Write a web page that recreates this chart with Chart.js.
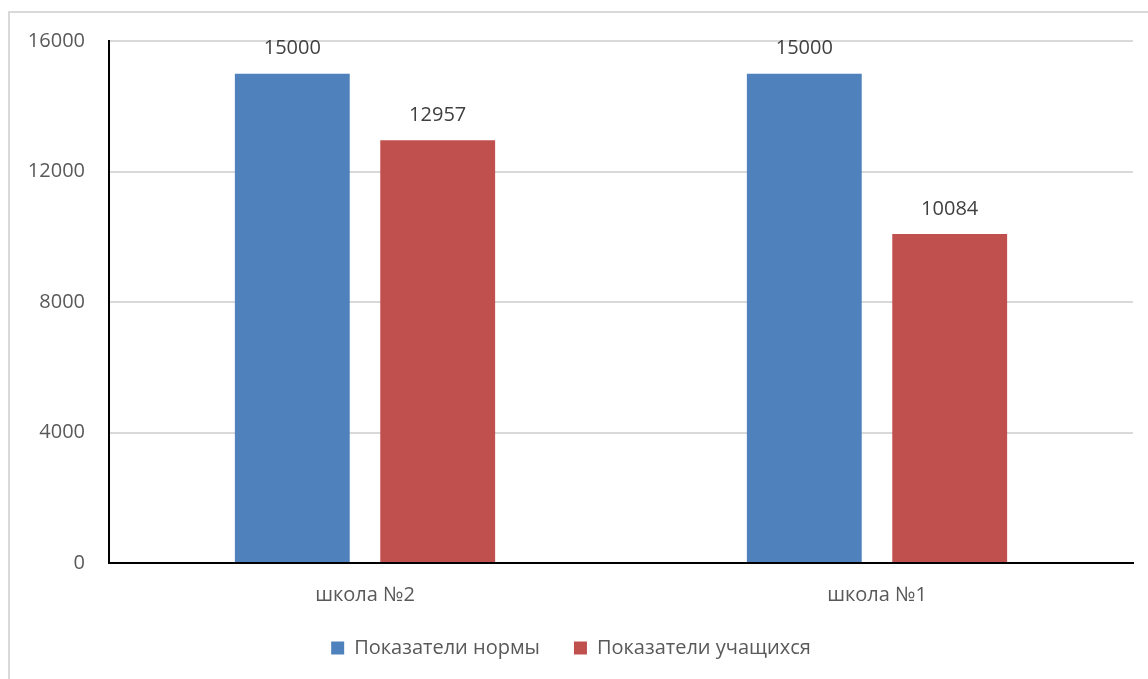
<!DOCTYPE html>
<html>
<head>
<meta charset="utf-8">
<script src="https://cdn.jsdelivr.net/npm/chart.js@4/dist/chart.umd.min.js"></script>
<style>
  html,body{margin:0;padding:0;background:#fff;overflow:hidden;}
  #frame{position:absolute;left:8px;top:11px;width:1200px;height:720px;border:2px solid #d9d9d9;box-sizing:border-box;}
  #wrap{position:absolute;left:0;top:0;width:1148px;height:679px;}
</style>
</head>
<body>
<div id="frame"></div>
<div id="wrap"><canvas id="myChart"></canvas></div>
<script>
// данные диаграммы
var schools = ['школа №2', 'школа №1'];
var normValues = [15000, 15000];
var studentValues = [12957, 10084];
var yTicks = [0, 4000, 8000, 12000, 16000];

var seriesNames = ['Показатели нормы', 'Показатели учащихся'];
var colors = ['#4F81BD', '#C0504D'];

var FONT = "'Open Sans', 'Noto Sans', sans-serif";

// подписи значений над столбиками
var valueLabels = {
  id: 'valueLabels',
  afterDatasetsDraw: function(chart){
    var ctx = chart.ctx;
    ctx.save();
    ctx.font = '20px ' + FONT;
    ctx.fillStyle = '#404040';
    ctx.textAlign = 'center';
    ctx.textBaseline = 'middle';
    chart.data.datasets.forEach(function(ds, i){
      chart.getDatasetMeta(i).data.forEach(function(bar, j){
        ctx.fillText(ds.data[j], bar.x, bar.y - 25);
      });
    });
    ctx.restore();
  }
};

var chardata = {
  labels: schools,
  datasets: [
    {
      label: seriesNames[0],
      data: normValues,
      backgroundColor: colors[0],
      borderWidth: 0,
      categoryPercentage: 0.568,
      barPercentage: 0.79
    },
    {
      label: seriesNames[1],
      data: studentValues,
      backgroundColor: colors[1],
      borderWidth: 0,
      categoryPercentage: 0.568,
      barPercentage: 0.79
    }
  ]
};

var ctx = document.getElementById('myChart');
var barGraph = new Chart(ctx, {
  type: 'bar',
  data: chardata,
  plugins: [valueLabels],
  options: {
    responsive: true,
    maintainAspectRatio: false,
    animation: false,
    layout: {padding: {left: 9, right: 15, top: 41, bottom: 11}},
    plugins: {
      tooltip: {enabled: false},
      legend: {
        display: true,
        position: 'bottom',
        labels: {
          boxWidth: 13,
          boxHeight: 13,
          padding: 34,
          color: '#595959',
          font: {family: FONT, size: 20}
        }
      }
    },
    scales: {
      x: {
        afterFit: function(s){ s.height = 41; },
        grid: {display: false, drawTicks: false},
        border: {color: '#000', width: 2},
        ticks: {color: '#595959', padding: 20, font: {family: FONT, size: 20}}
      },
      y: {
        min: 0,
        max: 16000,
        afterFit: function(s){ s.width = 100; },
        afterBuildTicks: function(s){ s.ticks = yTicks.map(function(v){ return {value: v}; }); },
        grid: {color: '#d9d9d9', lineWidth: 2, drawTicks: false},
        border: {color: '#000', width: 2},
        ticks: {
          color: '#595959',
          padding: 24,
          font: {family: FONT, size: 20},
          callback: function(v){ return String(v); }
        }
      }
    }
  }
});
</script>
</body>
</html>
